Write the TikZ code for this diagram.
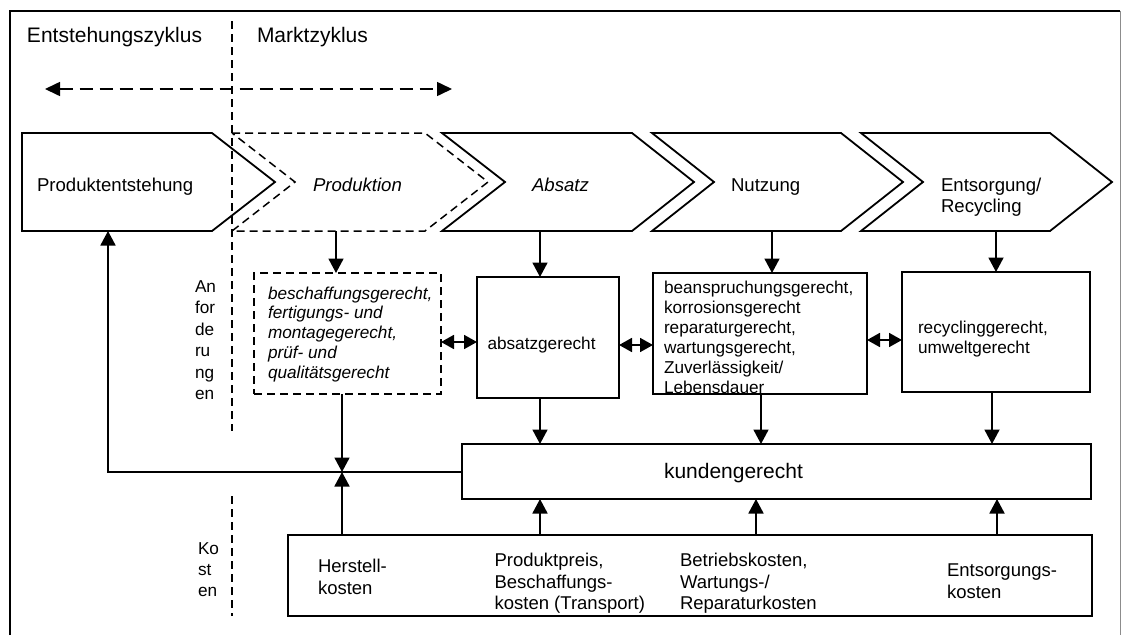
\documentclass[tikz,border=0pt]{standalone}
\usepackage{fontspec}
\setmainfont{Liberation Sans}
\usetikzlibrary{arrows.meta}
\begin{document}
\begin{tikzpicture}[x=1pt,y=-1pt,
  line width=1.8pt, line join=miter,
  arr/.style={-{Triangle[length=14.5pt,width=15pt]}},
  dbl/.style={{Triangle[length=13pt,width=14pt]}-{Triangle[length=13pt,width=14pt]}},
  dashline/.style={dash pattern=on 8pt off 5pt},
  longdash/.style={dash pattern=on 13pt off 7pt},
  box/.style={draw, inner sep=0pt, outer sep=0pt, anchor=north west},
  dbox/.style={box, dashline},
  chevron/.style={line width=1.8pt},
  lbl/.style={inner sep=0pt, outer sep=0pt, align=left},
  head/.style={lbl, anchor=base west, font=\fontsize{21}{25}\selectfont},
  chev/.style={lbl, font=\fontsize{18.6}{21.5}\selectfont},
  req/.style={lbl, anchor=north west, font=\fontsize{17.2}{20}\selectfont},
  cost/.style={lbl, anchor=north west, font=\fontsize{18.5}{21.5}\selectfont},
]
\useasboundingbox (0,0) rectangle (1122,635);

% outer frame
\draw[line width=1.6pt] (10,635) -- (10,11) -- (1120,11);
\draw[line width=1pt, black!45] (1120,11) -- (1120,635);

% cycle headings and divider
\node[head] (hEnt) at (27,42) {Entstehungszyklus};
\node[head] (hMkt) at (257,42) {Marktzyklus};
\coordinate (divTop) at (232,21);
\coordinate (divMid) at (232,431);
\coordinate (divLow) at (232,496);
\coordinate (divBot) at (232,616);
\draw[dashline, line width=1.5pt] (divTop) -- (divMid);
\draw[dashline, line width=1.5pt] (divLow) -- (divBot);
\coordinate (spanL) at (45,89);
\coordinate (spanR) at (452,89);
\draw[longdash, line width=1.6pt, {Triangle[length=15pt,width=14pt]}-{Triangle[length=15pt,width=14pt]}] (spanL) -- (spanR);

% process chevrons
\draw[chevron] (22,133) -- (212,133) -- (275,182) -- (212,231) -- (22,231) -- cycle;
\draw[chevron, dashline, line width=1.5pt] (232,133) -- (425,133) -- (488,182) -- (425,231) -- (232,231) -- (295,182) -- cycle;
\draw[chevron] (442,133) -- (632,133) -- (694,182) -- (632,231) -- (442,231) -- (505,182) -- cycle;
\draw[chevron] (652,133) -- (841,133) -- (903,182) -- (841,231) -- (652,231) -- (714,182) -- cycle;
\draw[chevron] (861,133) -- (1050,133) -- (1112,182) -- (1050,231) -- (861,231) -- (923,182) -- cycle;

\node[chev, anchor=base west] (cPE) at (37,191) {Produktentstehung};
\node[chev, anchor=base west] (cPR) at (313,191) {\itshape Produktion};
\node[chev, anchor=base west] (cAB) at (532,191) {\itshape Absatz};
\node[chev, anchor=base west] (cNU) at (731,191) {Nutzung};
\node[chev, anchor=north west] (cEN) at (941,176) {\rule{0pt}{15pt}Entsorgung/\\Recycling};

% chevron bottom points for the arrows
\coordinate (bPE) at (108,231);
\coordinate (bPR) at (336,231);
\coordinate (bAB) at (540,231);
\coordinate (bNU) at (772,231);
\coordinate (bEN) at (996,231);

% requirement boxes
\node[dbox, minimum width=187pt, minimum height=121pt, line width=1.5pt] (rPR) at (254,273) {};
\node[box, minimum width=142pt, minimum height=121pt] (rAB) at (477,277) {};
\node[box, minimum width=214pt, minimum height=121pt] (rNU) at (653,273) {};
\node[box, minimum width=188pt, minimum height=120pt] (rEN) at (902,272) {};

\node[req] (sideA) at (195,277.5) {\rule{0pt}{15pt}An\\[1.4pt]for\\[1.4pt]de\\[1.4pt]ru\\[1.4pt]ng\\[1.4pt]en};
\node[req, font=\fontsize{17.2}{19.75}\selectfont\itshape] (tPR) at (268,284) {\rule{0pt}{15pt}beschaffungsgerecht,\\fertigungs- und\\montagegerecht,\\prüf- und\\qualitätsgerecht};
\node[req, anchor=base west] (tAB) at (487.5,349.5) {absatzgerecht};
\node[req] (tNU) at (664,278) {\rule{0pt}{15pt}beanspruchungsgerecht,\\korrosionsgerecht\\reparaturgerecht,\\wartungsgerecht,\\Zuverlässigkeit/\\Lebensdauer};
\node[req] (tEN) at (918,318) {\rule{0pt}{15pt}recyclinggerecht,\\umweltgerecht};

% customer box and cost box
\node[box, minimum width=629pt, minimum height=55pt] (kun) at (462,444) {};
\node[lbl, anchor=base west, font=\fontsize{21}{25}\selectfont] (tKun) at (664,478) {kundengerecht};
\node[box, minimum width=804pt, minimum height=81pt] (kos) at (288,535) {};

\node[req] (sideK) at (198,539.5) {\rule{0pt}{15pt}Ko\\[1pt]st\\[1pt]en};
\node[cost] (kH) at (318,557.5) {\rule{0pt}{15pt}Herstell-\\kosten};
\node[cost] (kP) at (494.6,551.5) {\rule{0pt}{15pt}Produktpreis,\\Beschaffungs-\\kosten (Transport)};
\node[cost] (kB) at (680,551.5) {\rule{0pt}{15pt}Betriebskosten,\\Wartungs-/\\Reparaturkosten};
\node[cost] (kE) at (947,561.5) {\rule{0pt}{15pt}Entsorgungs-\\kosten};

% arrows from chevrons to requirement boxes
\draw[arr] (bPR) -- (bPR |- rPR.north);
\draw[arr] (bAB) -- (bAB |- rAB.north);
\draw[arr] (bNU) -- (bNU |- rNU.north);
\draw[arr] (bEN) -- (bEN |- rEN.north);

% links between requirement boxes
\draw[dbl] (rPR.east |- 0,342) -- (rAB.west |- 0,342);
\draw[dbl] (rAB.east |- 0,345) -- (rNU.west |- 0,345);
\draw[dbl] (rNU.east |- 0,340) -- (rEN.west |- 0,340);

% requirements into the customer box
\coordinate (join) at (342,472);
\draw[arr] (rPR.south -| join) -- (join);
\draw[arr] (kos.north -| join) -- (join);
\coordinate (xAB) at (540,0);
\coordinate (xNU) at (761,0);
\coordinate (xEN) at (992,0);
\draw[arr] (rAB.south -| xAB) -- (kun.north -| xAB);
\draw[arr] (rNU.south -| xNU) -- (kun.north -| xNU);
\draw[arr] (rEN.south -| xEN) -- (kun.north -| xEN);

% costs into the customer box
\coordinate (yAB) at (540,0);
\coordinate (yNU) at (756,0);
\coordinate (yEN) at (997,0);
\draw[arr] (kos.north -| yAB) -- (kun.south -| yAB);
\draw[arr] (kos.north -| yNU) -- (kun.south -| yNU);
\draw[arr] (kos.north -| yEN) -- (kun.south -| yEN);

% feedback to product development
\draw[arr] (kun.west |- join) -- (bPE |- join) -- (bPE);
\end{tikzpicture}
\end{document}
